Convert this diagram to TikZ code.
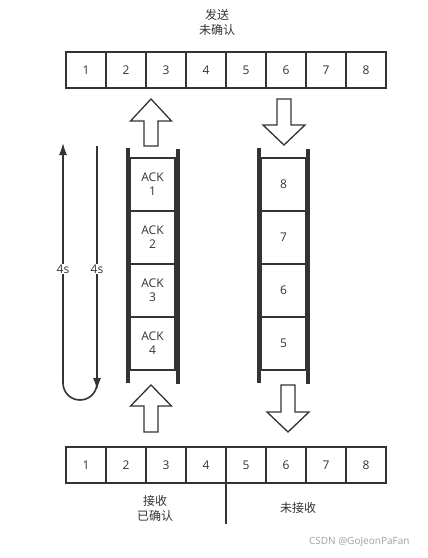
\documentclass[tikz,border=0pt]{standalone}
\usepackage{fontspec}
\usetikzlibrary{arrows.meta}
\setmainfont{Open Sans}
\newfontfamily\cjk{Noto Sans CJK SC}
\definecolor{ink}{HTML}{333333}
\definecolor{wm}{HTML}{A0A0A0}
\newcommand\blockarrowup[4]{% cx, tip, base, bottom
  \draw[arrowshape] (#1,#2) -- (#1+20.5,#3) -- (#1+7,#3) -- (#1+7,#4) -- (#1-7,#4) -- (#1-7,#3) -- (#1-20.5,#3) -- cycle;}
\newcommand\blockarrowdown[4]{% cx, top, base, tip
  \draw[arrowshape] (#1-7,#2) -- (#1+7,#2) -- (#1+7,#3) -- (#1+21,#3) -- (#1,#4) -- (#1-21,#3) -- (#1-7,#3) -- cycle;}
\begin{document}
\begin{tikzpicture}[x=1pt,y=-1pt,
  cell/.style={draw=ink, line width=1.6pt, minimum width=40pt, minimum height=36pt, inner sep=0pt, font=\fontsize{12}{12}\selectfont, text=ink},
  qcell/.style={draw=ink, line width=1.4pt, minimum width=45pt, minimum height=53pt, inner sep=0pt, font=\fontsize{12}{14}\selectfont, text=ink, align=center},
  bar/.style={draw=ink, line width=4pt},
  arrowshape/.style={draw=ink, line width=1.3pt, fill=white, line join=miter},
  lab/.style={font=\cjk\fontsize{12}{15}\selectfont, text=ink, align=center},
  tline/.style={draw=ink, line width=1.6pt}
]
\useasboundingbox (0,0) rectangle (428,558);
% top text
\node[lab] (toplab) at (217,22) {发送\\未确认};
% top row
\foreach \i in {1,...,8} {
  \node[cell] (t\i) at (86+40*\i-40,70) {\i};
}
% bottom row
\foreach \i in {1,...,8} {
  \node[cell] (b\i) at (86+40*\i-40,465) {\i};
}
\coordinate (divtop) at (226,447);
\coordinate (divbot) at (226,524);
\draw[tline] (divtop) -- (divbot);
\node[lab] (recvack) at (155,508) {接收\\已确认};
\node[lab] (notrecv) at (298,508) {未接收};
\node[font=\fontsize{10}{10}\selectfont, text=wm, anchor=east] (wmark) at (413,542) {CSDN @GoJeonPaFan};
% left ACK column
\foreach \i in {1,...,4} {
  \node[qcell] (a\i) at (152.5,184.5+53*\i-53) {ACK\\\i};
}
\draw[bar] (128,148) -- (128,383);
\draw[bar] (178,149) -- (178,384);
% right column
\foreach \i/\v in {1/8,2/7,3/6,4/5} {
  \node[qcell] (r\i) at (283.5,184.5+53*\i-53) {\v};
}
\draw[bar] (259,148) -- (259,383);
\draw[bar] (308,149) -- (308,384);
% block arrows
\blockarrowup{151}{99}{121}{146}
\blockarrowup{151}{385}{406}{432}
\blockarrowdown{284}{99}{125}{145}
\blockarrowdown{288}{385}{412}{432}
% timing lines
\coordinate (ltop) at (63,143);
\coordinate (rtop) at (97,146);
\coordinate (rbot) at (97,390);
\draw[tline, -{Latex[length=12pt,width=8pt]}] (rtop) -- (rbot);
\draw[tline, -{Latex[length=12pt,width=8pt]}] (97,383) arc[start angle=0, end angle=180, radius=17] -- (ltop);
\node[fill=white, inner sep=1pt, font=\fontsize{12}{12}\selectfont, text=ink] (l4s) at (63,269) {4s};
\node[fill=white, inner sep=1pt, font=\fontsize{12}{12}\selectfont, text=ink] (r4s) at (97,269) {4s};
\end{tikzpicture}
\end{document}
